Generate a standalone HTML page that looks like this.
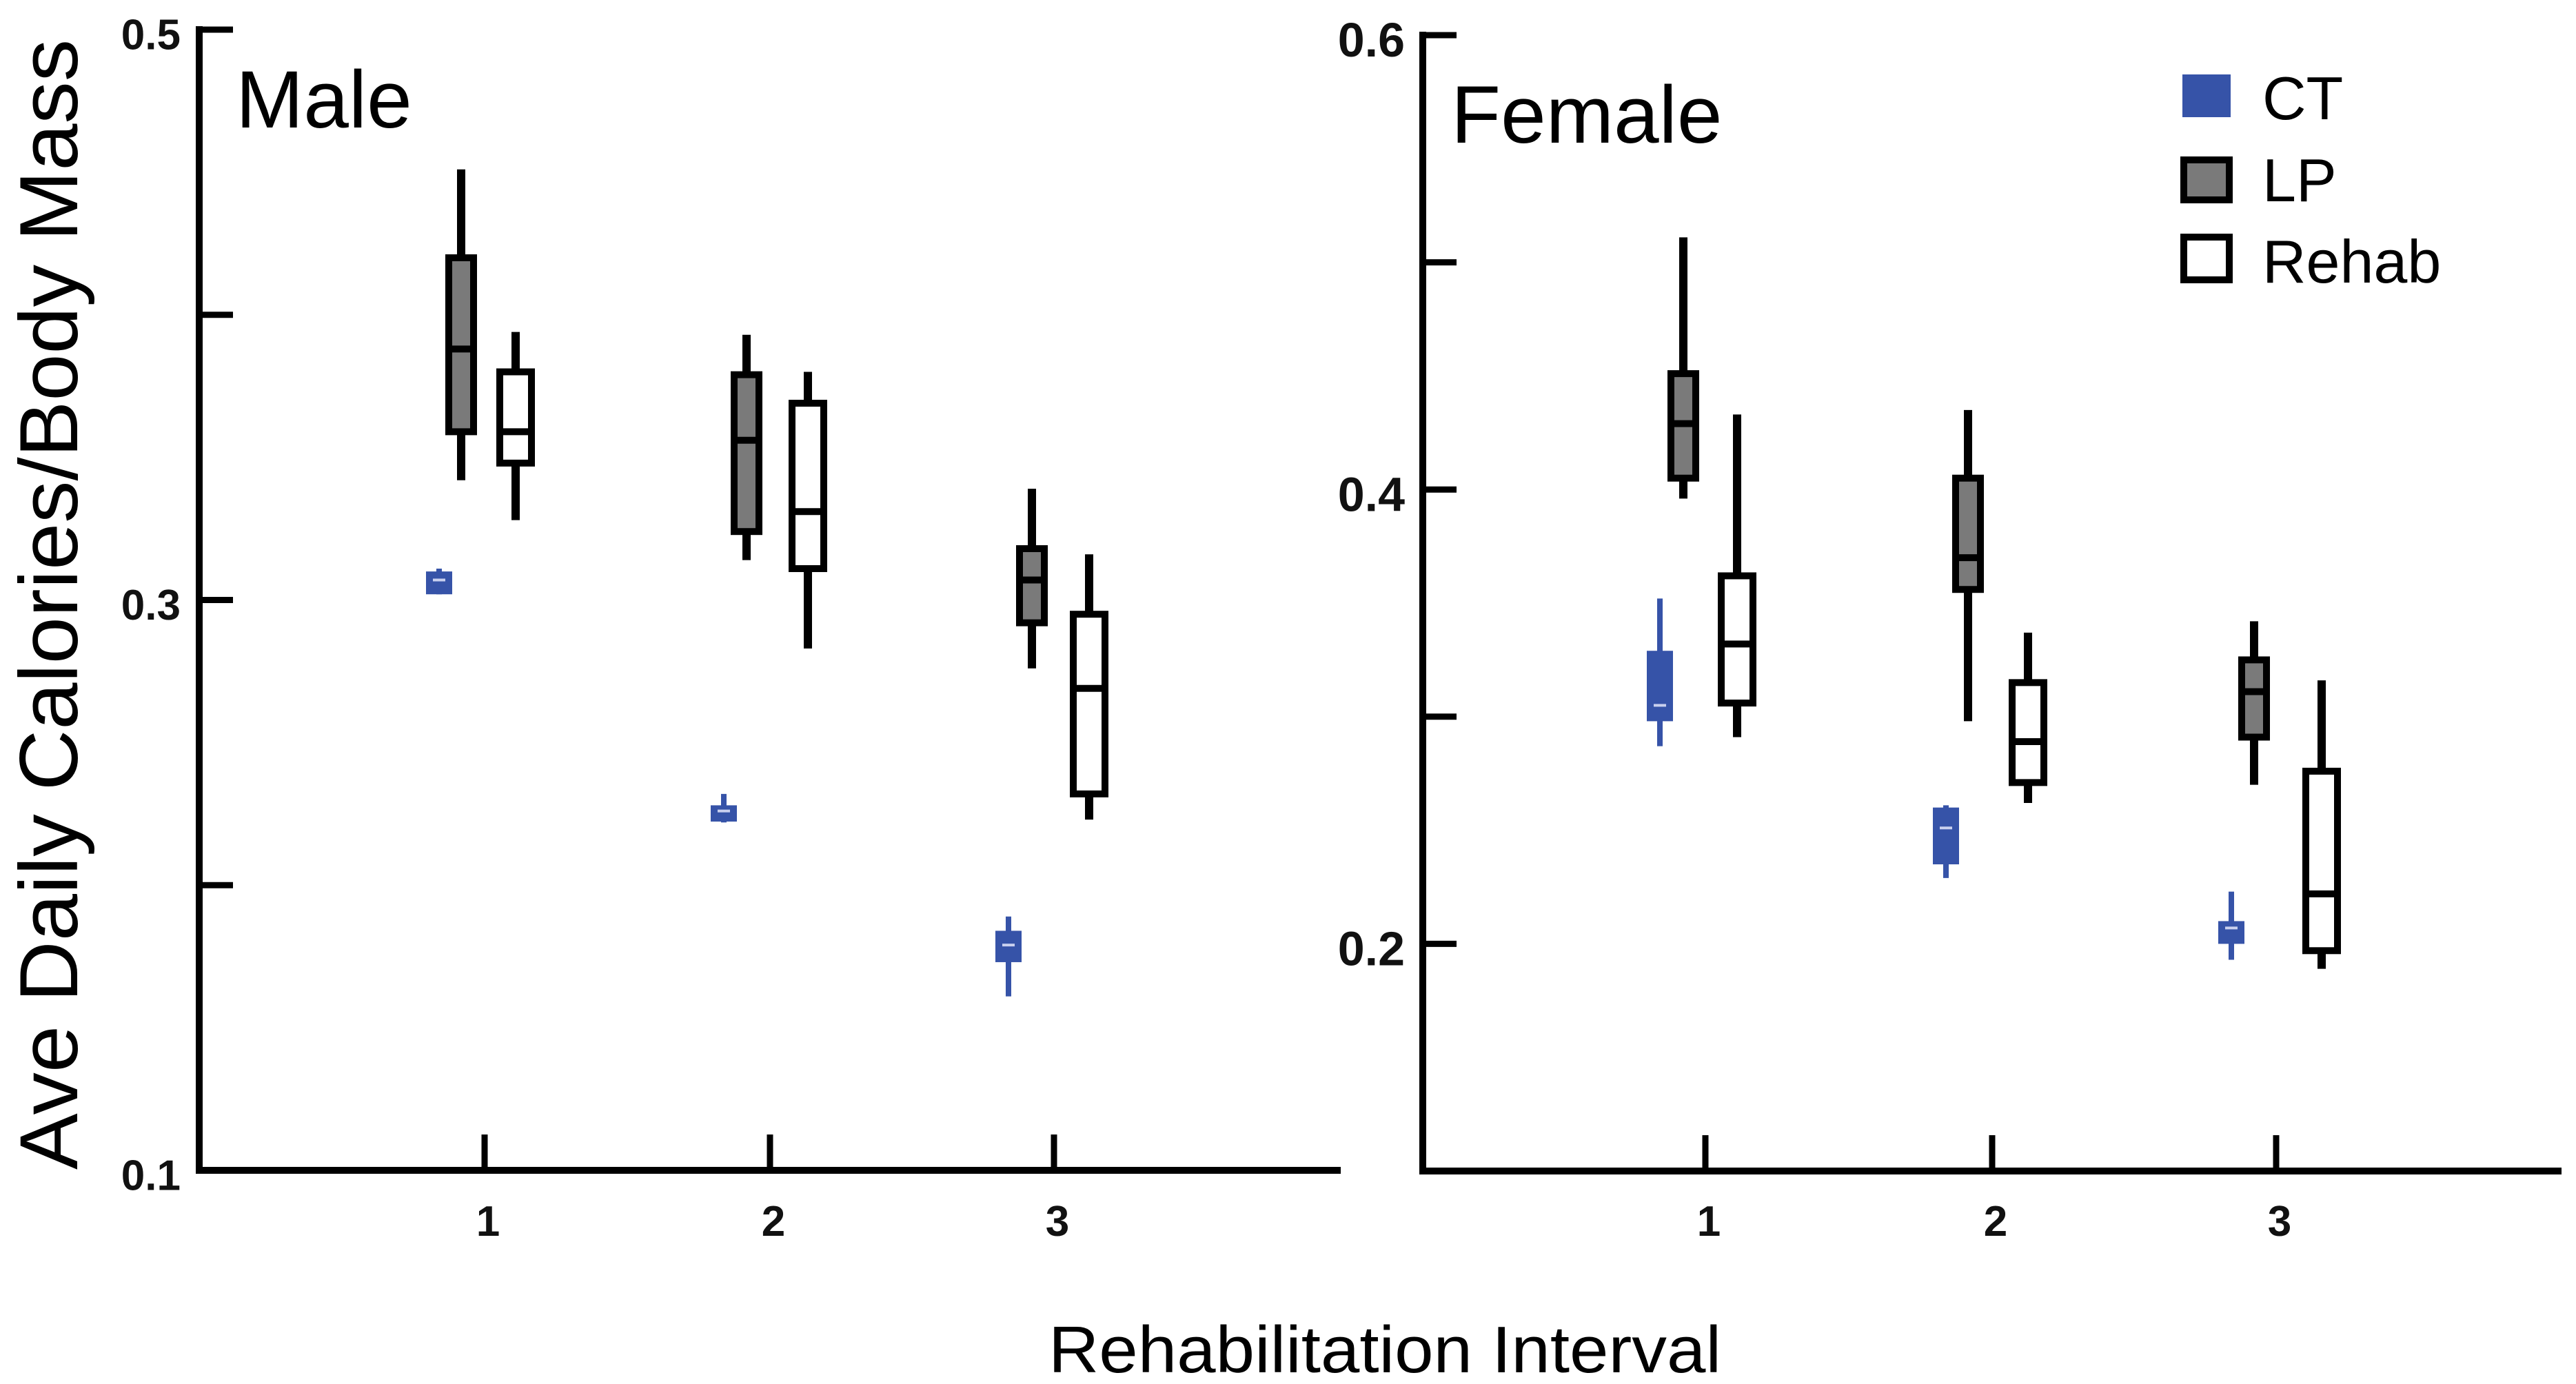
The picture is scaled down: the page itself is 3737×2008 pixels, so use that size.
<!DOCTYPE html>
<html><head><meta charset="utf-8"><style>
html,body{margin:0;padding:0;background:#fff;}
svg{display:block;font-family:"Liberation Sans",Arial,sans-serif;}
</style></head><body>
<svg id="chart" width="3737" height="2008" viewBox="0 0 3737 2008" xmlns="http://www.w3.org/2000/svg">
<rect x="0" y="0" width="3737" height="2008" fill="#fff"/>
<g id="layer"></g>
<text x="30" y="877" font-size="120" fill="#000" text-anchor="middle" transform="rotate(-90 30 877)" dy="82" textLength="1640" lengthAdjust="spacingAndGlyphs">Ave Daily Calories/Body Mass</text>
<text x="1521" y="1991" font-size="96" fill="#000" textLength="976" lengthAdjust="spacingAndGlyphs">Rehabilitation Interval</text>
<g>
<rect x="3166" y="108" width="70" height="62" fill="#3653a8"/>
<text x="3282" y="173" font-size="88" fill="#000">CT</text>
<rect x="3168" y="232" width="66" height="58" fill="#7a7a7a" stroke="#000" stroke-width="10"/>
<text x="3282" y="292" font-size="88" fill="#000">LP</text>
<rect x="3168" y="344" width="66" height="62" fill="#fff" stroke="#000" stroke-width="10"/>
<text x="3282" y="410" font-size="88" fill="#000">Rehab</text>
</g>
</svg>
<script>
// Data: each box = [whiskerLow, q1, median, q3, whiskerHigh]
const categories = ["1", "2", "3"];
const seriesNames = ["CT", "LP", "Rehab"];
const maleTicks = [0.1, 0.2, 0.3, 0.4, 0.5];
const maleTickLabels = ["0.1", "", "0.3", "", "0.5"];
const femaleTicks = [0.1, 0.2, 0.3, 0.4, 0.5, 0.6];
const femaleTickLabels = ["", "0.2", "", "0.4", "", "0.6"];
const maleCT = [[0.302, 0.302, 0.307, 0.310, 0.311], [0.222, 0.2223, 0.226, 0.228, 0.232], [0.161, 0.173, 0.179, 0.184, 0.189]];
const maleLP = [[0.342, 0.359, 0.388, 0.420, 0.451], [0.314, 0.324, 0.356, 0.379, 0.393], [0.276, 0.292, 0.307, 0.318, 0.339]];
const maleRehab = [[0.328, 0.348, 0.359, 0.380, 0.394], [0.283, 0.311, 0.331, 0.369, 0.380], [0.223, 0.232, 0.269, 0.295, 0.316]];
const femaleCT = [[0.287, 0.298, 0.305, 0.329, 0.352], [0.229, 0.235, 0.251, 0.260, 0.261], [0.193, 0.200, 0.207, 0.210, 0.223]];
const femaleLP = [[0.396, 0.405, 0.429, 0.451, 0.511], [0.298, 0.356, 0.370, 0.405, 0.435], [0.270, 0.291, 0.311, 0.325, 0.342]];
const femaleRehab = [[0.291, 0.306, 0.332, 0.362, 0.433], [0.262, 0.271, 0.289, 0.315, 0.337], [0.189, 0.197, 0.222, 0.276, 0.316]];

const NS = "http://www.w3.org/2000/svg";
const layer = document.getElementById("layer");
function mk(tag, attrs, parent) {
  const e = document.createElementNS(NS, tag);
  for (const k in attrs) e.setAttribute(k, attrs[k]);
  (parent || layer).appendChild(e);
  return e;
}
const panels = [
  {key:"male", title:"Male", titleX:342, titleY:185, axisX:289, axisTop:43, axisBottom:1698, axisRight:1945,
   vmin:0.1, vmax:0.5, catX:[703,1117,1529], ticks:maleTicks, tickLabels:maleTickLabels, labelRight:262, labelSize:62,
   offs:[[-66,-34,45],[-67,-34,55],[-66,-32,51]], data:[maleCT, maleLP, maleRehab]},
  {key:"female", title:"Female", titleX:2105, titleY:207, axisX:2064, axisTop:51, axisBottom:1699, axisRight:3716,
   vmin:0.1, vmax:0.6, catX:[2474,2890,3302], ticks:femaleTicks, tickLabels:femaleTickLabels, labelRight:2038, labelSize:70,
   offs:[[-66,-32,46],[-67,-35,52],[-65,-32,66]], data:[femaleCT, femaleLP, femaleRehab]}
];
const widths = [38, 46, 56];
panels.forEach(p => {
  const g = mk("g", {});
  
  
  const yS = v => p.axisBottom - (v - p.vmin) / (p.vmax - p.vmin) * (p.axisBottom - p.axisTop);
  const xS = (ci, si) => p.catX[ci] + p.offs[ci][si];
  const ya = mk("line", {x1:p.axisX, y1:p.axisTop-5, x2:p.axisX, y2:p.axisBottom+5, stroke:"#000", "stroke-width":10}, g);
  
  
  const xa = mk("line", {x1:p.axisX-5, y1:p.axisBottom, x2:p.axisRight, y2:p.axisBottom, stroke:"#000", "stroke-width":10}, g);
  
  
  p.ticks.forEach((t, i) => {
    const y = yS(t);
    if (i > 0) {
      const tk = mk("line", {x1:p.axisX, y1:y, x2:p.axisX+49, y2:y, stroke:"#000", "stroke-width":9}, g);
      
      
    }
    if (p.tickLabels[i]) {
      const tl = mk("text", {x:p.labelRight, y:y + p.labelSize*0.36 + 6, "font-size":p.labelSize, "font-weight":"bold", "text-anchor":"end", fill:"#111"}, g);
      tl.textContent = p.tickLabels[i];
      
      
    }
  });
  categories.forEach((c, ci) => {
    const cx = p.catX[ci];
    const tk = mk("line", {x1:cx, y1:p.axisBottom, x2:cx, y2:p.axisBottom-52, stroke:"#000", "stroke-width":9}, g);
    
    
    const tl = mk("text", {x:cx+5, y:1793, "font-size":62, "font-weight":"bold", "text-anchor":"middle", fill:"#111"}, g);
    tl.textContent = c;
    
    
  });
  const tt = mk("text", {x:p.titleX, y:p.titleY, "font-size":118, fill:"#000"}, g);
  tt.textContent = p.title;
  
  
  p.data.forEach((series, si) => {
    series.forEach((b, ci) => {
      const x = xS(ci, si), w = widths[si];
      const bg = mk("g", {}, g);
      
      
      const yLo = yS(b[0]), yQ1 = yS(b[1]), yMed = yS(b[2]), yQ3 = yS(b[3]), yHi = yS(b[4]);
      if (si === 0) {
        mk("line", {x1:x, y1:yHi, x2:x, y2:yLo, stroke:"#3653a8", "stroke-width":8}, bg);
        mk("rect", {x:x-w/2, y:yQ3, width:w, height:Math.max(yQ1-yQ3, 6), fill:"#3653a8"}, bg);
        mk("line", {x1:x-w/2+10, y1:yMed, x2:x+w/2-10, y2:yMed, stroke:"#c9d0ee", "stroke-width":4}, bg);
      } else {
        mk("line", {x1:x, y1:yHi, x2:x, y2:yLo, stroke:"#000", "stroke-width":12}, bg);
        mk("rect", {x:x-w/2+5, y:yQ3, width:w-10, height:yQ1-yQ3, fill:si===1?"#7a7a7a":"#fff", stroke:"#000", "stroke-width":10}, bg);
        mk("line", {x1:x-w/2+5, y1:yMed, x2:x+w/2-5, y2:yMed, stroke:"#000", "stroke-width":10}, bg);
      }
    });
  });
});
</script>
</body></html>
